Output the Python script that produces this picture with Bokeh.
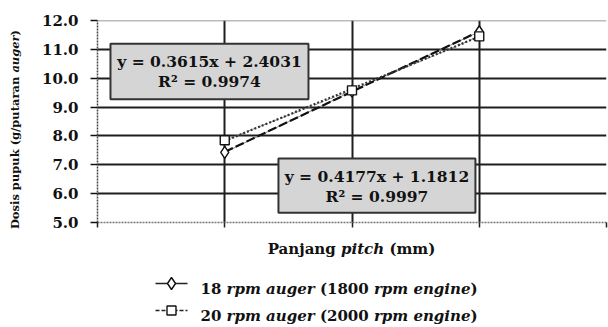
import math
from bokeh.plotting import figure
from bokeh.layouts import column, row
from bokeh.models import (Range1d, FixedTicker, PrintfTickFormatter, Label, BoxAnnotation, Span,
                          CustomJS)
from bokeh.document import Document
from bokeh.embed import file_html
from bokeh.resources import INLINE

# ---------------- data ----------------
pitch_mm = [15, 20, 25]
dose_18rpm = [7.43, 9.55, 11.61]
dose_20rpm = [7.85, 9.58, 11.45]
trend_slopes = [0.4177, 0.3615]        # 18 rpm, 20 rpm
trend_intercepts = [1.1812, 2.4031]
trend_r2 = [0.9997, 0.9974]
y_ticks = [5, 6, 7, 8, 9, 10, 11, 12]
x_grid_ticks = [10, 15, 20, 25, 30]
y_title = [("Dosis pupuk (g/putaran ", False), ("auger", True), (")", False)]
x_title = [("Panjang ", False), ("pitch ", True), ("(mm)", False)]
legend_1 = [("18 ", False), ("rpm auger ", True), ("(1800 ", False), ("rpm engine", True), (")", False)]
legend_2 = [("20 ", False), ("rpm auger ", True), ("(2000 ", False), ("rpm engine", True), (")", False)]

# ---------------- layout / style ----------------
FONT = "DejaVu Serif"
X_RANGE = (10, 30)
Y_RANGE = (5, 12)
W_TOTAL = 608
W_YL = 24
W_MAIN = W_TOTAL - W_YL
H_MAIN = 232
H_LEG = 95
H_TOTAL = H_MAIN + H_LEG
FL, FR, FT, FB = 73, 582, 20, 222   # main frame edges (pixels inside main figure)

# approximate DejaVu Serif Bold advance widths (em) - refined in the browser by measuring
EM = {' ': .348, '(': .473, ')': .473, '/': .365, '.': .380, '=': .838, '+': .838, '\u00b2': .438,
      'D': .830, 'P': .757, 'R': .800, 'a': .675, 'c': .601, 'e': .680, 'g': .716, 'h': .747,
      'i': .343, 'j': .343, 'k': .727, 'm': 1.102, 'n': .747, 'o': .687, 'p': .726, 'r': .539,
      's': .595, 't': .478, 'u': .747, 'x': .674, 'y': .674}


def text_w(s, size):
    return sum(.696 if ch.isdigit() else EM.get(ch, .68) for ch in s) * size


def dy(py):
    return Y_RANGE[1] - (py - FT) / (FB - FT) * (Y_RANGE[1] - Y_RANGE[0])


def py_of(yv):
    return FT + (Y_RANGE[1] - yv) / (Y_RANGE[1] - Y_RANGE[0]) * (FB - FT)


def mklabel(x, y, text, italic, size, align="left", baseline="alphabetic", angle=0.0):
    return Label(x=x, y=y, text=text, text_font=FONT,
                 text_font_style="bold italic" if italic else "bold",
                 text_font_size=f"{size}px", text_color="#111111",
                 text_align=align, text_baseline=baseline, angle=angle)


def blank_fig(w, h):
    f = figure(width=w, height=h, x_range=Range1d(0, w), y_range=Range1d(h, 0),
               x_axis_type=None, y_axis_type=None, output_backend="svg",
               toolbar_location=None, min_border=0)
    f.frame_align = False
    f.outline_line_color = None
    f.grid.visible = False
    f.background_fill_color = "white"
    f.border_fill_color = "white"
    return f


# runs of mixed-style text pieces, laid out exactly in the browser
run_labels, run_ids, run_anchor, run_mode, run_dir, run_vert, run_css = [], [], [], [], [], [], []


def add_run(fig, rid, pieces, size, anchor, fixed, mode="start", vertical=False):
    total = sum(text_w(s, size) for s, _ in pieces)
    d = -1 if vertical else 1
    cur = anchor - d * total / 2 if mode == "center" else anchor
    for s, it in pieces:
        if vertical:
            lab = mklabel(fixed, cur, s, it, size, align="left", baseline="middle",
                          angle=math.pi / 2)
        else:
            lab = mklabel(cur, fixed, s, it, size)
        fig.add_layout(lab)
        run_labels.append(lab); run_ids.append(rid); run_anchor.append(anchor)
        run_mode.append(mode); run_dir.append(d); run_vert.append(vertical)
        run_css.append(f"{'bold italic' if it else 'bold'} {size}px \"{FONT}\"")
        cur += d * text_w(s, size)


# ---------------- main chart ----------------
p = figure(width=W_MAIN, height=H_MAIN, x_range=Range1d(*X_RANGE), y_range=Range1d(*Y_RANGE),
           output_backend="svg", toolbar_location=None,
           min_border_left=FL, min_border_right=W_MAIN - FR, min_border_top=FT,
           min_border_bottom=H_MAIN - FB)
p.frame_align = False
p.outline_line_color = None
p.background_fill_color = "white"
p.border_fill_color = "white"

p.yaxis.ticker = FixedTicker(ticks=y_ticks)
p.yaxis.formatter = PrintfTickFormatter(format="%.1f")
p.yaxis.major_label_text_font = FONT
p.yaxis.major_label_text_font_style = "bold"
p.yaxis.major_label_text_font_size = "15px"
p.yaxis.major_label_text_color = "#111111"
p.yaxis.major_label_standoff = 12
p.yaxis.axis_line_color = "#444444"
p.yaxis.axis_line_dash = "2 1"
p.yaxis.axis_line_width = 1.5
p.yaxis.major_tick_line_color = "#111111"
p.yaxis.major_tick_line_width = 1.5
p.yaxis.major_tick_out = 7
p.yaxis.major_tick_in = 0
p.yaxis.minor_tick_out = 0
p.yaxis.minor_tick_in = 0

p.xaxis.ticker = FixedTicker(ticks=x_grid_ticks)
p.xaxis.major_label_overrides = {t: "" for t in x_grid_ticks}
p.xaxis.major_label_standoff = 0
p.xaxis.axis_line_color = "#777777"
p.xaxis.axis_line_dash = "2 1"
p.xaxis.axis_line_width = 1.5
p.xaxis.major_tick_line_color = "#222222"
p.xaxis.major_tick_line_width = 1.5
p.xaxis.major_tick_out = 5
p.xaxis.major_tick_in = 0
p.xaxis.minor_tick_out = 0
p.xaxis.minor_tick_in = 0

p.ygrid.ticker = FixedTicker(ticks=y_ticks[1:-1])
p.ygrid.grid_line_color = "#1e1e1e"
p.ygrid.grid_line_width = 2
p.xgrid.ticker = FixedTicker(ticks=x_grid_ticks[1:])
p.xgrid.grid_line_color = "#1e1e1e"
p.xgrid.grid_line_width = 2
p.add_layout(Span(location=Y_RANGE[1], dimension="width", line_color="#777777", line_width=1.5))

p.line(pitch_mm, dose_18rpm, line_color="#8a8a8a", line_width=1)
p.line(pitch_mm, dose_20rpm, line_color="#8a8a8a", line_width=1, line_dash="4 2")
tx = [pitch_mm[0], pitch_mm[-1]]
p.line(tx, [trend_slopes[0] * v + trend_intercepts[0] for v in tx],
       line_color="#111111", line_width=2.2, line_dash="9 3")
p.line(tx, [trend_slopes[1] * v + trend_intercepts[1] for v in tx],
       line_color="#333333", line_width=2.2, line_dash="2 2")
p.scatter(pitch_mm, dose_18rpm, marker="diamond", size=12, fill_color="white",
          line_color="#111111", line_width=1.4)
p.scatter(pitch_mm, dose_20rpm, marker="square", size=9, fill_color="white",
          line_color="#111111", line_width=1.4)

boxes = [  # (left, right, top, bottom, series index)
    (10.51, 18.29, 11.19, 9.27, 1),
    (17.11, 24.85, 7.22, 5.34, 0),
]
for left, right, top, bottom, idx in boxes:
    p.add_layout(BoxAnnotation(left=left, right=right, top=top, bottom=bottom,
                               fill_color="#d5d5d5", fill_alpha=1.0,
                               line_color="#333333", line_width=2, line_alpha=1.0))
    cx = (left + right) / 2
    ptop = py_of(top)
    eq = f"y = {trend_slopes[idx]:.4f}x + {trend_intercepts[idx]:.4f}"
    r2 = f"R\u00b2 = {trend_r2[idx]:.4f}"
    p.add_layout(mklabel(cx, dy(ptop + 18), eq, False, 15.5, align="center", baseline="middle"))
    p.add_layout(mklabel(cx, dy(ptop + 38), r2, False, 15.5, align="center", baseline="middle"))

# ---------------- rotated y title strip (full height) ----------------
yl = blank_fig(W_YL, H_TOTAL)
add_run(yl, "yt", y_title, 11.5, 129, 14, mode="center", vertical=True)

# ---------------- x title + legend strip ----------------
q = blank_fig(W_MAIN, H_LEG)
OX = W_YL  # q starts this many pixels from the left edge
add_run(q, "xt", x_title, 15, 351 - OX, 16, mode="center")

for rid, row_base, pieces, mk, dash in [("l1", 56, legend_1, "diamond", "solid"),
                                         ("l2", 83, legend_2, "square", "4 2")]:
    ky = row_base - 5
    q.line([155 - OX, 187 - OX], [ky, ky], line_color="#222222", line_width=1.3, line_dash=dash)
    q.scatter([171 - OX], [ky], marker=mk, size=12 if mk == "diamond" else 9, fill_color="white",
              line_color="#111111", line_width=1.4)
    add_run(q, rid, pieces, 15, 200 - OX, row_base)

layout = row(yl, column(p, q, spacing=0), spacing=0)

fix = CustomJS(args=dict(labels=run_labels, ids=run_ids, anchors=run_anchor, modes=run_mode,
                         dirs=run_dir, vert=run_vert, css=run_css), code="""
const ctx = document.createElement('canvas').getContext('2d');
const groups = {};
const order = [];
for (let i = 0; i < labels.length; i++) {
  if (!(ids[i] in groups)) { groups[ids[i]] = []; order.push(ids[i]); }
  groups[ids[i]].push(i);
}
for (const g of order) {
  const idx = groups[g];
  const ws = idx.map((i) => {
    ctx.font = css[i];
    return ctx.measureText(labels[i].text).width;
  });
  const total = ws.reduce((a, b) => a + b, 0);
  const i0 = idx[0];
  let cur = modes[i0] == 'center' ? anchors[i0] - dirs[i0] * total / 2 : anchors[i0];
  idx.forEach((i, k) => {
    const v = Math.round(cur * 10) / 10;
    if (vert[i]) { if (labels[i].y !== v) labels[i].y = v; }
    else { if (labels[i].x !== v) labels[i].x = v; }
    cur += dirs[i] * ws[k];
  });
}
""")

q.js_on_change("inner_width", fix)
yl.js_on_change("inner_width", fix)

doc = Document()
doc.add_root(layout)
doc.js_on_event("document_ready", fix)
open("out.html", "w").write(file_html(doc, INLINE))
